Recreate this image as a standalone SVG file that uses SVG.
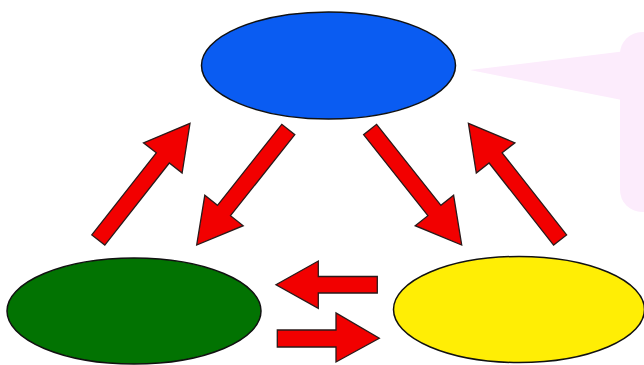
<svg xmlns="http://www.w3.org/2000/svg" width="644" height="365" viewBox="0 0 644 365">
  <style>
    .node { stroke: #111; stroke-width: 1.5; }
    .arrow { fill: #f20000; stroke: #2a1a1a; stroke-width: 1.3; stroke-linejoin: miter; }
    .callout { fill: #fcecfc; stroke: none; }
  </style>
  <rect x="0" y="0" width="644" height="365" fill="#ffffff"/>
  <g id="callout">
    <rect class="callout" x="620" y="32" width="60" height="180" rx="22" ry="22"/>
    <polygon class="callout" points="470,70 622,51.5 622,100"/>
  </g>
  <g id="node-blue">
    <ellipse class="node" cx="328.5" cy="65.5" rx="127" ry="53.5" fill="#0a5cf2"/>
  </g>
  <g id="node-green">
    <ellipse class="node" cx="134" cy="311" rx="127" ry="53" fill="#027302"/>
  </g>
  <g id="node-yellow">
    <ellipse class="node" cx="519" cy="309.5" rx="125.5" ry="53" fill="#ffee05"/>
  </g>
  <g id="connectors">
    <polygon class="arrow" points="104.8,245.1 169.3,163.0 182.1,173.0 190,123.3 143.5,142.8 156.3,152.8 91.8,234.9"/>
    <polygon class="arrow" points="553.6,245.1 489.1,163.0 476.3,173.0 468.4,123.3 514.9,142.8 502.1,152.8 566.6,234.9"/>
    <polygon class="arrow" points="294.8,134.7 230.5,215.7 243.2,225.7 196.7,245 204.8,195.3 217.5,205.3 281.8,124.3"/>
    <polygon class="arrow" points="363.6,134.7 427.9,215.7 415.2,225.7 461.7,245 453.6,195.3 440.9,205.3 376.6,124.3"/>
    <polygon class="arrow" points="377.3,276.5 318.3,276.5 318.3,261 276,284.7 318.3,308.3 318.3,293 377.3,293"/>
    <polygon class="arrow" points="277.3,330 336,330 336,313 379.3,338.3 336,362 336,347 277.3,347"/>
  </g>
</svg>
